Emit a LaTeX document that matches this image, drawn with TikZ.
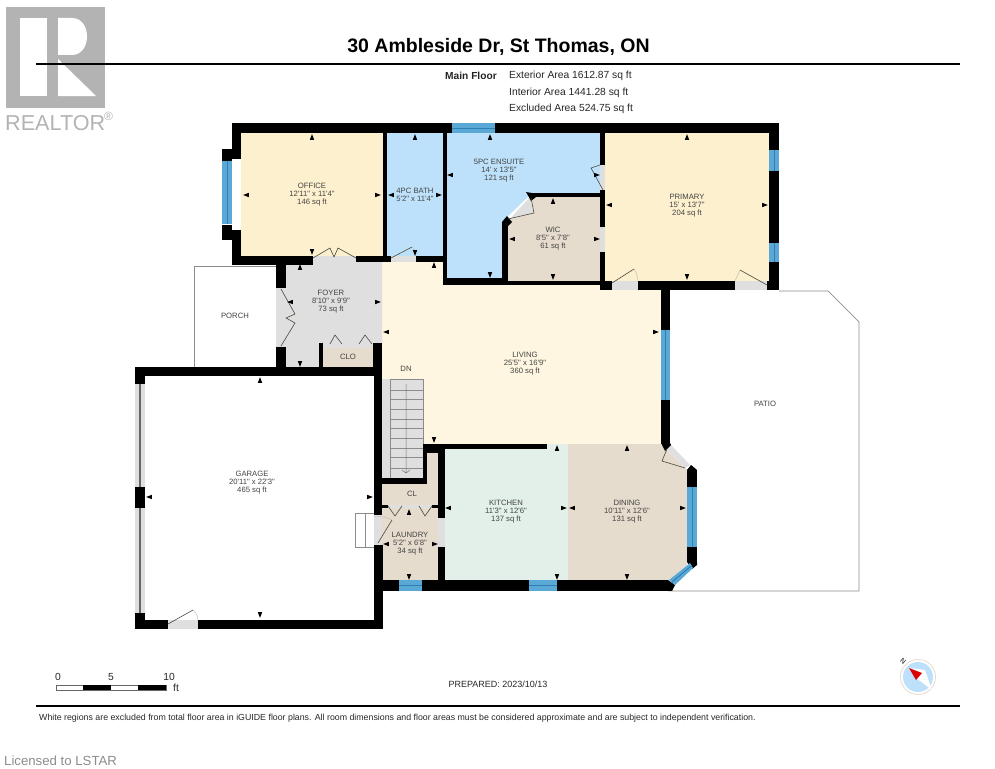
\documentclass[tikz,border=0pt]{standalone}
\usepackage{fontspec}
\newfontfamily\planfont{Liberation Sans}
\usetikzlibrary{calc}

\definecolor{officecol}{HTML}{FDF0CE}
\definecolor{livingcol}{HTML}{FEF6E0}
\definecolor{bathcol}{HTML}{BDE1FA}
\definecolor{tancol}{HTML}{E6DCCD}
\definecolor{kitchencol}{HTML}{E3F0EA}
\definecolor{floorcol}{HTML}{DFDFDF}
\definecolor{glasscol}{HTML}{5AA8D6}
\definecolor{glassdark}{HTML}{2F7FB5}
\definecolor{labelcol}{HTML}{444444}
\definecolor{logocol}{HTML}{B3B3B3}
\definecolor{leafcol}{HTML}{4A4A3C}

\tikzset{
  wall/.style={fill=black},
  window/.style={fill=glasscol},
  roomlabel/.style={font=\planfont\fontsize{7.7}{8.1}\selectfont, text=labelcol, align=center, inner sep=0pt},
  infotext/.style={font=\planfont\fontsize{10.3}{12}\selectfont, text=black!85, inner sep=0pt},
  leaf/.style={draw=leafcol, line width=0.6pt, line join=round},
  swing/.style={draw=leafcol!40, line width=0.4pt},
  outline/.style={draw=black!45, line width=0.7pt}
}

\begin{document}
\begin{tikzpicture}[x=1pt, y=-1pt]
    \useasboundingbox (0,0) rectangle (995,768);

    % Logo
    \fill[logocol] (6,7) rectangle (105,108);
    \fill[white] (20,18) rectangle (47,96);
    \fill[white] (58,18) -- (72,18) .. controls (92,18) and (92,55) .. (72,55) -- (58,55) -- cycle;
    \fill[white] (58,59) -- (96,96) -- (58,96) -- cycle;
    \node[font=\planfont\fontsize{21.6}{22}\selectfont, text=logocol, anchor=west, inner sep=0pt] (realtor) at (5,123) {REALTOR};
    \node[font=\planfont\fontsize{12}{12}\selectfont, text=logocol, anchor=west, inner sep=0pt] (regmark) at (104,116) {®};

    % Heading
    \draw[line width=1.3pt] (36,64) -- (960,64);
    \node[font=\planfont\bfseries\fontsize{19.5}{21}\selectfont, inner sep=0pt] (title) at (498.5,47) {30 Ambleside Dr, St Thomas, ON};
    \node[infotext, font=\planfont\bfseries\fontsize{10.2}{12}\selectfont, anchor=west] (floorname) at (445,76) {Main Floor};
    \node[infotext, anchor=west] (exterior) at (509,76) {Exterior Area 1612.87 sq ft};
    \node[infotext, anchor=west] (interior) at (509,92.5) {Interior Area 1441.28 sq ft};
    \node[infotext, anchor=west] (excluded) at (509,109) {Excluded Area 524.75 sq ft};

    % Room floors
    \fill[officecol] (241,133) rectangle (383,256);
    \fill[officecol] (605,133) rectangle (769,282);
    \fill[bathcol] (387,133) rectangle (443,256);
    \fill[bathcol] (447,133) -- (600,133) -- (600,193) -- (532,193) -- (502,222) -- (502,278) -- (447,278) -- cycle;
    \fill[tancol] (532,197) -- (600,197) -- (600,281) -- (508,281) -- (508,222) -- cycle;
    \fill[livingcol] (382,262) -- (444,262) -- (444,285) -- (661,285) -- (661,444) -- (382,444) -- cycle;
    \fill[floorcol] (276,288) -- (286,288) -- (286,262) -- (382,262) -- (382,367) -- (286,367) -- (286,347) -- (276,347) -- cycle;
    \fill[tancol] (323,348) rectangle (373,368);
    \fill[kitchencol] (445,444) rectangle (568,580);
    \fill[tancol] (568,444) -- (661,444) -- (667,450) -- (687,470) -- (687,565) -- (669,580) -- (568,580) -- cycle;
    \fill[tancol] (382,484) -- (427,484) -- (427,453) -- (438,453) -- (438,581) -- (382,581) -- cycle;

    % Door openings
    \foreach \xa/\ya/\xb/\yb in {313/256/356/265, 391/256/416/262, 600/165/605/190, 612/281/638/290, 735/281/767/290,
        168/620/198/629, 374/515/382/545, 323/343/373/348, 388/505/432/508, 600/227/605/252, 438/518/445/547} {
        \fill[floorcol] (\xa,\ya) rectangle (\xb,\yb);
    }
    \fill[floorcol] (671,445) -- (690,465) -- (685,468) -- (667,450) -- cycle;
    \fill[floorcol] (507,222) -- (530,197) -- (534,213) -- (510,220) -- cycle;

    % Stairs
    \fill[floorcol] (382,379) rectangle (423,478);
    \draw[outline] (390,379) -- (390,478);
    \draw[outline] (390,379) -- (423,379) -- (423,478);
    \foreach \y in {390,399,409,419,428,438,448,457,468} {
        \draw[black!45, line width=0.5pt] (390,\y) -- (423,\y);
    }
    \draw[black!55, line width=0.5pt] (406,384) -- (406,473) (402,470) -- (406,473) -- (410,470);

    % Outlines of porch, patio and steps
    \draw[outline] (276,266) -- (194,266) -- (194,367);
    \draw[outline] (779,291) -- (828,291) -- (859,322) -- (859,591) -- (672,591);
    \draw[outline] (374,513) -- (355,513) -- (355,547) -- (374,547);
    \draw[outline] (365,513) -- (365,547);

    % Walls
    \foreach \xa/\ya/\xb/\yb in {232/123/779/133, 232/123/241/159, 222/149/232/161, 222/225/232/240, 232/230/241/265,
        232/256/313/265, 356/256/391/262, 383/133/387/256, 416/256/447/262, 443/133/447/285, 443/278/502/285,
        502/222/508/285, 502/281/612/285, 600/133/605/165, 600/190/605/227, 600/252/605/290, 532/193/600/197,
        605/281/612/290, 638/281/735/290, 767/281/779/290, 769/133/779/290, 661/285/670/444,
        276/262/286/288, 276/347/286/376, 135/367/382/376, 319/343/323/368, 373/343/382/368, 374/368/382/515, 374/545/383/629,
        135/367/145/384, 135/487/145/508, 135/613/145/629, 135/620/168/629, 198/620/383/629,
        382/478/427/484, 423/444/427/484, 423/444/547/449, 427/449/445/453, 438/449/445/518, 438/547/445/581,
        382/505/388/508, 432/505/438/508, 382/580/668/591, 687/470/697/487, 687/547/697/562} {
        \fill[wall] (\xa,\ya) rectangle (\xb,\yb);
    }
    \fill[wall] (661,443) -- (670,443) -- (671,445) -- (665,451) -- cycle;
    \fill[wall] (687,470) -- (691,465) -- (697,470) -- cycle;
    \fill[wall] (687,562) -- (697,562) -- (697,565) -- (692,569) -- cycle;
    \fill[wall] (668,580) -- (675,585) -- (672,591) -- (668,591) -- cycle;
    \fill[wall] (526,192) -- (532,193) -- (536,197) -- (531,201) -- cycle;
    \fill[wall] (502,222) -- (507,216) -- (512,222) -- (508,226) -- (502,226) -- cycle;

    % Windows
    \foreach \xa/\ya/\xb/\yb in {222/161/232/224, 769/150/779/171, 769/243/779/262, 661/330/670/400, 687/487/697/547} {
        \fill[window] (\xa,\ya) rectangle (\xb,\yb);
        \draw[glassdark, line width=1pt] ({(\xa+\xb)/2},\ya) -- ({(\xa+\xb)/2},\yb);
    }
    \foreach \xa/\ya/\xb/\yb in {452/123/495/133, 399/580/422/591, 529/580/557/591} {
        \fill[window] (\xa,\ya) rectangle (\xb,\yb);
        \draw[glassdark, line width=1pt] (\xa,{(\ya+\yb)/2}) -- (\xb,{(\ya+\yb)/2});
    }
    \fill[window] (690,563) -- (693,568) -- (675,585) -- (669,580) -- cycle;
    \draw[glassdark, line width=1pt] (691,566) -- (672,582);

    % Garage door
    \fill[floorcol] (135,384) rectangle (145,487);
    \fill[floorcol] (135,508) rectangle (145,613);
    \draw[black!60, line width=1.2pt] (140,384) -- (140,487) (140,508) -- (140,613);

    % Door leaves
    \draw[leaf] (313,258) -- (330,248) -- (334,257) -- (338,248) -- (356,258);
    \draw[leaf] (281,289) -- (295,314) -- (286,318) -- (295,323) -- (281,346);
    \draw[leaf] (391,258) -- (412,247);
    \draw[swing] (412,247) .. controls (415,250) .. (416,256);
    \draw[leaf] (603,190) -- (591,168) -- (600,165);
    \draw[leaf] (508,219) -- (534,213) -- (531,198);
    \draw[leaf] (612,283) -- (634,269);
    \draw[swing] (634,269) .. controls (637,274) .. (638,281);
    \draw[leaf] (767,285) -- (740,270);
    \draw[swing] (740,270) .. controls (737,275) .. (735,281);
    \draw[leaf] (685,468) -- (662,461) -- (667,449);
    \draw[leaf] (168,624) -- (193,610);
    \draw[swing] (193,610) .. controls (197,614) .. (198,620);
    \draw[leaf] (378,543) -- (392,520);
    \draw[swing] (392,520) .. controls (386,517) .. (373,516);
    \draw[leaf] (330,344) -- (335,335) -- (342,344);
    \draw[leaf] (359,344) -- (365,335) -- (372,344);
    \draw[leaf] (388,506) -- (395,516) -- (402,506);
    \draw[leaf] (419,506) -- (425,516) -- (432,506);

    % Dimension tips, up then left then right then down
    \foreach \x/\y in {312/137, 415/137, 490/137, 553/201, 687/137, 300/267, 260/380, 434/265, 557/448, 627/448, 409/512} {
        \fill[shift={(\x,\y)}, rotate=90] (2.8,0) -- (-2.8,2.2) -- (-2.8,-2.2) -- cycle;
    }
    \foreach \x/\y in {246/195, 391/195, 450/175, 512/239, 609/205, 290/302, 149/497, 386/332, 448/508, 572/508, 386/544} {
        \fill[shift={(\x,\y)}, rotate=180] (2.8,0) -- (-2.8,2.2) -- (-2.8,-2.2) -- cycle;
    }
    \foreach \x/\y in {378/195, 439/195, 597/175, 597/239, 765/205, 378/302, 370/497, 656/332, 564/508, 683/508, 435/544} {
        \fill[shift={(\x,\y)}] (2.8,0) -- (-2.8,2.2) -- (-2.8,-2.2) -- cycle;
    }
    \foreach \x/\y in {312/252, 415/253, 490/275, 553/277, 687/277, 300/364, 260/615, 434/440, 557/577, 627/577, 409/577} {
        \fill[shift={(\x,\y)}, rotate=-90] (2.8,0) -- (-2.8,2.2) -- (-2.8,-2.2) -- cycle;
    }

    % Room labels
    \node[roomlabel] (office) at (312,194.5) {OFFICE\\12'11" x 11'4"\\146 sq ft};
    \node[roomlabel] (bath) at (415,194.5) {4PC BATH\\5'2" x 11'4"};
    \node[roomlabel] (ensuite) at (499,171) {5PC ENSUITE\\14' x 13'5"\\121 sq ft};
    \node[roomlabel] (wic) at (553,239) {WIC\\8'5" x 7'8"\\61 sq ft};
    \node[roomlabel] (primary) at (687,206) {PRIMARY\\15' x 13'7"\\204 sq ft};
    \node[roomlabel] (foyer) at (331,302) {FOYER\\8'10" x 9'9"\\73 sq ft};
    \node[roomlabel] (porch) at (235,316) {PORCH};
    \node[roomlabel] (clo) at (348,357) {CLO};
    \node[roomlabel] (dn) at (406,369) {DN};
    \node[roomlabel] (living) at (525,364) {LIVING\\25'5" x 16'9"\\360 sq ft};
    \node[roomlabel] (patio) at (765,404) {PATIO};
    \node[roomlabel] (garage) at (252,483) {GARAGE\\20'11" x 22'3"\\465 sq ft};
    \node[roomlabel] (cl) at (412,494) {CL};
    \node[roomlabel] (laundry) at (410,544) {LAUNDRY\\5'2" x 6'8"\\34 sq ft};
    \node[roomlabel] (kitchen) at (506,512) {KITCHEN\\11'3" x 12'6"\\137 sq ft};
    \node[roomlabel] (dining) at (627,512) {DINING\\10'11" x 12'6"\\131 sq ft};

    % Scale bar
    \draw[black!60, line width=0.5pt, fill=white] (56,685) rectangle (166,690);
    \fill (83,685) rectangle (111,690);
    \fill (138,685) rectangle (166,690);
    \node[infotext] (scalezero) at (58,677) {0};
    \node[infotext] (scalefive) at (111,677) {5};
    \node[infotext] (scaleten) at (169,677) {10};
    \node[infotext] (scaleunit) at (176,688) {ft};

    % Compass
    \draw[tancol, line width=0.8pt, fill=white] (918,677) circle (17.5);
    \fill[bathcol] (918,677) circle (15);
    \fill[white] (909,668) -- (925,670) -- (932,690) -- (916,678) -- cycle;
    \fill[red!85!black] (909,668) -- (922,673) -- (916,680) -- cycle;
    \node[font=\planfont\fontsize{7}{7}\selectfont, rotate=-40, inner sep=0pt] (north) at (903,661) {N};

    % Footer
    \node[infotext, font=\planfont\fontsize{9}{10}\selectfont] (prepared) at (498,684) {PREPARED: 2023/10/13};
    \draw[line width=1.3pt] (36,706) -- (960,706);
    \node[font=\planfont\fontsize{8.8}{10}\selectfont, text=black!85, anchor=west, inner sep=0pt] (disclaimer) at (39,718) {White regions are excluded from total floor area in iGUIDE floor plans. All room dimensions and floor areas must be considered approximate and are subject to independent verification.};
    \node[font=\planfont\fontsize{13.2}{15}\selectfont, text=black!45, anchor=west, inner sep=0pt] (licensed) at (4,761) {Licensed to LSTAR};
\end{tikzpicture}
\end{document}
